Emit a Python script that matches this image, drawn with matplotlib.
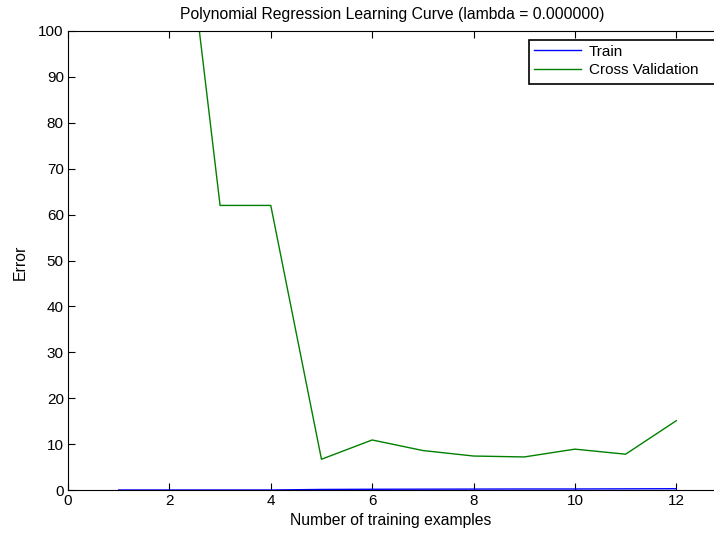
import matplotlib
matplotlib.use("Agg")
import matplotlib.pyplot as plt
from matplotlib.patches import Rectangle

plt.rcParams['font.family'] = ['Liberation Sans', 'DejaVu Sans']

m = [1, 2, 3, 4, 5, 6, 7, 8, 9, 10, 11, 12]
error_train = [0.0, 0.0, 0.0, 0.0, 0.12, 0.16, 0.18, 0.2, 0.22, 0.22, 0.25, 0.28]
error_val = [160.0, 155.0, 62.0, 62.0, 6.7, 10.9, 8.6, 7.4, 7.2, 8.9, 7.8, 15.1]
xticks = [0, 2, 4, 6, 8, 10, 12]
yticks = [0, 10, 20, 30, 40, 50, 60, 70, 80, 90, 100]

W, H = 714, 536
fig = plt.figure(figsize=(W / 100, H / 100), dpi=100)
ax = fig.add_axes([68 / W, 1 - 490 / H, (727 - 68) / W, (490 - 31) / H])

l1, = ax.plot(m, error_train, color=(0, 0, 1), lw=1.0, label='Train')
l2, = ax.plot(m, error_val, color=(0, 0.5, 0), lw=1.0, label='Cross Validation')

ax.set_xlim(0, 13)
ax.set_ylim(0, 100)
ax.set_xticks(xticks)
ax.set_yticks(yticks)
ax.tick_params(direction='in', length=5, width=0.8, top=True, right=True,
               labelsize=11, colors='black', pad=3)
for s in ax.spines.values():
    s.set_linewidth(0.8)

fig.text(392 / W, 1 - 15 / H, 'Polynomial Regression Learning Curve (lambda = 0.000000)',
         ha='center', va='center', fontsize=11.3)
fig.text(391 / W, 1 - 520 / H, 'Number of training examples',
         ha='center', va='center', fontsize=11.3)
fig.text(20 / W, 1 - 262 / H, 'Error', ha='center', va='center', rotation=90, fontsize=11.3)

# legend box (extends past the right edge, as in the reference)
fig.patches.append(Rectangle((529 / W, 1 - 84 / H), (730 - 529) / W, (84 - 40) / H,
                             transform=fig.transFigure, facecolor='white',
                             edgecolor='black', lw=1.2, zorder=5))
leg = fig.legend(handles=[l1, l2], labels=['Train', 'Cross Validation'],
                 loc='upper left',
                 bbox_to_anchor=(529 / W, 1 - 40 / H), borderaxespad=0,
                 fontsize=11, frameon=False,
                 handlelength=3.1, handletextpad=0.5, borderpad=0.3,
                 labelspacing=0.3)
leg.set_zorder(6)

fig.savefig('out.png', dpi=100)
